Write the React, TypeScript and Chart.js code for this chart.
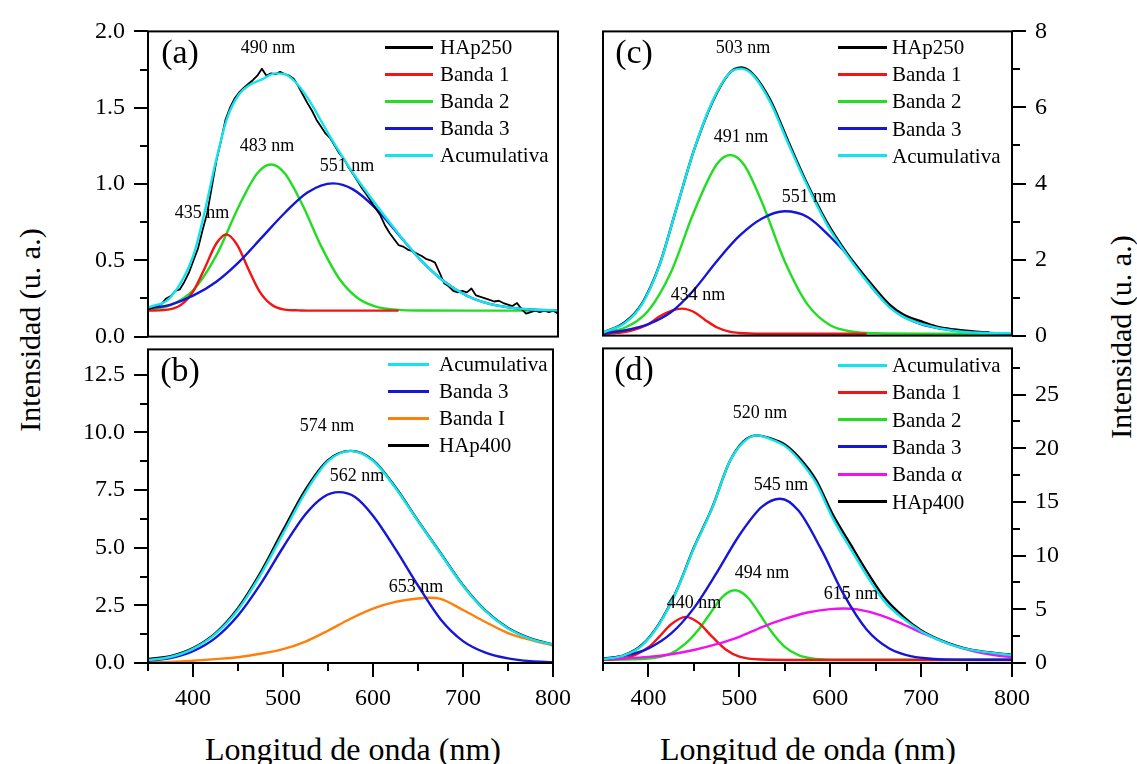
import React, { useEffect, useRef } from "react";
import { Chart, registerables } from "chart.js";
Chart.register(...registerables);

const FONT = '"Liberation Serif", "Times New Roman", Times, serif';

// ---------- axes ----------
const X_TICKS = [400, 500, 600, 700, 800];
const X_MINOR = [350, 450, 550, 650, 750];
const A_YTICKS = [0, 0.5, 1, 1.5, 2];
const A_YMINOR = [0.25, 0.75, 1.25, 1.75];
const B_YTICKS = [0, 2.5, 5, 7.5, 10, 12.5];
const B_YMINOR = [1.25, 3.75, 6.25, 8.75, 11.25];
const C_YTICKS = [0, 2, 4, 6, 8];
const C_YMINOR = [1, 3, 5, 7];
const D_YTICKS = [0, 5, 10, 15, 20, 25];
const D_YMINOR = [2.5, 7.5, 12.5, 17.5, 22.5, 27.5];

// ---------- panel (a) ----------
const A_BLACK_X = [350,355,360,365,370,375,380,385,390,395,400,405,410,415,420,425,430,435,440,445,450,455,460,465,470,475,480,485,490,495,500,505,510,515,520,525,530,535,540,545,550,555,560,565,570,575,580,585,590,595,600,605,610,615,620,625,630,635,640,645,650,655,660,665,670,675,680,685,690,695,700,705,710,715,720,725,730,735,740,745,750,755,760,765,770,775,780,785,790,795,800];
const A_BLACK = [0.18,0.19,0.2,0.215,0.25,0.265,0.3,0.31,0.36,0.42,0.5,0.58,0.7,0.81,0.98,1.15,1.28,1.42,1.5,1.56,1.6,1.63,1.655,1.68,1.71,1.755,1.71,1.725,1.72,1.735,1.72,1.71,1.69,1.64,1.585,1.53,1.48,1.42,1.375,1.33,1.3,1.25,1.2,1.165,1.11,1.065,1.02,0.97,0.93,0.885,0.84,0.795,0.73,0.68,0.64,0.6,0.59,0.57,0.56,0.545,0.53,0.51,0.5,0.485,0.42,0.35,0.33,0.3,0.29,0.3,0.29,0.315,0.27,0.26,0.25,0.24,0.23,0.235,0.22,0.21,0.2,0.22,0.18,0.15,0.16,0.17,0.16,0.17,0.16,0.17,0.15];
const A_RED_X = [350,375,390,400,412,425,436,448,460,472,485,500,515,530,560,625];
const A_RED = [0.17,0.18,0.226,0.3,0.445,0.61,0.67,0.6,0.445,0.3,0.212,0.177,0.172,0.17,0.17,0.17];
const A_GREEN_X = [350,375,400,425,450,470,485,500,520,540,560,580,600,625,650,700,800];
const A_GREEN = [0.177,0.206,0.306,0.532,0.858,1.071,1.128,1.071,0.858,0.593,0.379,0.253,0.197,0.175,0.171,0.17,0.17];
const A_BLUE_X = [350,375,400,425,450,475,500,525,553,575,600,625,650,675,700,725,750,775,800];
const A_BLUE = [0.184,0.21,0.27,0.36,0.49,0.65,0.81,0.945,1.004,0.965,0.84,0.669,0.498,0.361,0.268,0.214,0.188,0.176,0.172];
const A_CUM_X = [350,375,400,412,425,437,450,462,475,490,500,512,525,550,575,600,625,650,675,700,725,750,775,800];
const A_CUM = [0.19,0.26,0.536,0.812,1.162,1.434,1.588,1.65,1.686,1.725,1.72,1.667,1.566,1.309,1.072,0.867,0.674,0.498,0.361,0.268,0.214,0.188,0.176,0.172];

// ---------- panel (b) ----------
const B_X = [350,375,400,425,450,475,500,525,550,575,600,625,650,675,700,725,750,775,800];
const B_CUM = [0.13,0.26,0.61,1.26,2.31,3.82,5.61,7.4,8.75,9.2,8.77,7.59,6.15,4.75,3.35,2.25,1.5,1.05,0.79];
const B_BLACK = [0.18,0.3,0.65,1.3,2.38,3.92,5.75,7.52,8.8,9.2,8.8,7.62,6.17,4.77,3.37,2.27,1.52,1.07,0.8];
const B_ORANGE_X = [350,375,400,425,450,475,500,525,550,575,600,625,650,662,675,700,725,750,775,800];
const B_ORANGE = [0.03,0.05,0.1,0.17,0.25,0.4,0.6,0.93,1.4,1.92,2.36,2.65,2.8,2.83,2.78,2.3,1.78,1.3,1.0,0.76];
const B_BLUE_X = [350,375,400,425,450,475,500,525,545,562,580,600,625,650,675,700,725,750,775,800];
const B_BLUE = [0.1,0.21,0.51,1.09,2.06,3.42,5.01,6.45,7.2,7.41,7.2,6.39,4.94,3.36,1.9,0.95,0.45,0.2,0.08,0.04];

// ---------- panel (c) ----------
const C_RED_X = [350,375,390,400,412,425,437,450,462,475,490,500,525,560,600,640];
const C_RED = [0.04,0.1,0.2,0.3,0.5,0.65,0.71,0.62,0.42,0.22,0.1,0.07,0.05,0.05,0.05,0.05];
const C_GREEN_X = [350,375,400,425,450,475,490,505,525,550,575,600,625,650,700,800];
const C_GREEN = [0.08,0.22,0.66,1.68,3.25,4.5,4.75,4.5,3.5,1.95,0.82,0.27,0.1,0.06,0.05,0.05];
const C_BLUE_X = [350,375,400,425,450,475,500,525,550,575,600,625,650,675,700,725,750,775,800];
const C_BLUE = [0.06,0.14,0.3,0.62,1.2,1.95,2.62,3.08,3.27,3.12,2.6,1.95,1.15,0.58,0.3,0.17,0.1,0.07,0.05];
const C_CUM_X = [350,374,393,412,431,450,470,489,502,515,534,554,573,596,619,642,665,680,703,737,770,800];
const C_CUM = [0.08,0.33,0.83,1.84,3.36,4.87,6.14,6.9,7.02,6.85,6.14,5.04,4.03,2.94,2.1,1.38,0.75,0.5,0.29,0.12,0.07,0.06];
const C_BLACK_X = [350,374,393,412,431,450,470,489,502,515,534,554,573,596,619,642,665,680,703,720,737,760,775];
const C_BLACK = [0.08,0.35,0.85,1.85,3.36,4.87,6.12,6.9,7.05,6.88,6.2,5.1,4.08,3.0,2.15,1.45,0.82,0.56,0.35,0.22,0.16,0.1,0.08];

// ---------- panel (d) ----------
const D_RED_X = [350,375,400,412,425,441,455,470,485,500,525,560,650,800];
const D_RED = [0.3,0.46,1.46,2.45,3.61,4.3,3.76,2.45,1.26,0.6,0.32,0.28,0.28,0.28];
const D_GREEN_X = [350,400,425,440,455,470,482,495,508,520,535,550,565,580,600,650,800];
const D_GREEN = [0.3,0.42,0.9,1.75,3.1,4.87,6.2,6.77,6.2,4.87,2.96,1.5,0.73,0.42,0.31,0.3,0.3];
const D_BLUE_X = [350,375,400,425,450,475,500,525,545,565,590,615,640,665,690,715,740,770,800];
const D_BLUE = [0.42,0.69,1.36,2.75,5.11,8.39,11.9,14.56,15.3,14.2,10.6,6.36,3.12,1.35,0.61,0.37,0.31,0.3,0.3];
const D_MAG_X = [350,375,400,425,450,475,500,525,550,575,600,615,630,655,680,705,730,755,780,800];
const D_MAG = [0.35,0.43,0.57,0.82,1.21,1.75,2.44,3.35,4.1,4.7,5.02,5.08,4.99,4.46,3.61,2.66,1.81,1.16,0.73,0.53];
const D_CUM_X = [350,374,393,412,431,450,470,489,504,519,535,550,565,584,603,622,642,661,680,699,718,737,756,800];
const D_CUM = [0.34,0.74,1.65,3.65,6.71,10.7,14.4,18.69,20.53,21.2,20.83,20.22,19.0,16.82,13.45,10.7,7.9,5.6,4.15,3.0,2.2,1.6,1.2,0.74];
const D_BLACK = [0.34,0.75,1.7,3.7,6.75,10.75,14.45,18.7,20.6,21.2,20.9,20.35,19.2,17.1,13.8,11.1,8.3,5.95,4.35,3.1,2.25,1.65,1.22,0.76];

// ---------- text ----------
const A_LEGEND = ["HAp250", "Banda 1", "Banda 2", "Banda 3", "Acumulativa"];
const B_LEGEND = ["Acumulativa", "Banda 3", "Banda I", "HAp400"];
const C_LEGEND = ["HAp250", "Banda 1", "Banda 2", "Banda 3", "Acumulativa"];
const D_LEGEND = ["Acumulativa", "Banda 1", "Banda 2", "Banda 3", "Banda \u03b1", "HAp400"];
const A_PEAKS = ["490 nm", "483 nm", "551 nm", "435 nm"];
const B_PEAKS = ["574 nm", "562 nm", "653 nm"];
const C_PEAKS = ["503 nm", "491 nm", "551 nm", "434 nm"];
const D_PEAKS = ["520 nm", "545 nm", "494 nm", "440 nm", "615 nm"];
const PANEL_LABELS = ["(a)", "(b)", "(c)", "(d)"];
const X_TITLE = "Longitud de onda (nm)";
const Y_TITLE = "Intensidad (u. a.)";

// ---------- styles ----------
const COL = {
  black: "#000000",
  red: "#f41414",
  green: "#22dd22",
  blue: "#1616d8",
  cyan: "#12e4ee",
  orange: "#ff7f0a",
  magenta: "#f012f0",
};

type S = { xs: number[]; ys: number[]; color: string; jagged?: boolean; width?: number };

const framePlugin = {
  id: "frame",
  afterDraw(chart: any) {
    const { ctx, chartArea: a } = chart;
    ctx.save();
    ctx.strokeStyle = "#000";
    ctx.lineWidth = 2;
    ctx.strokeRect(a.left, a.top, a.right - a.left, a.bottom - a.top);
    ctx.restore();
  },
};

function minorPlugin(xMinor: number[], yMinor: number[], side: string) {
  return {
    id: "minorTicks",
    afterDraw(chart: any) {
      const { ctx, chartArea: a, scales } = chart;
      ctx.save();
      ctx.strokeStyle = "#000";
      ctx.lineWidth = 2;
      for (const v of yMinor) {
        const p = Math.round(scales.y.getPixelForValue(v));
        ctx.beginPath();
        if (side === "right") {
          ctx.moveTo(a.right, p);
          ctx.lineTo(a.right + 8, p);
        } else {
          ctx.moveTo(a.left, p);
          ctx.lineTo(a.left - 8, p);
        }
        ctx.stroke();
      }
      for (const v of xMinor) {
        const p = Math.round(scales.x.getPixelForValue(v));
        ctx.beginPath();
        ctx.moveTo(p, a.bottom);
        ctx.lineTo(p, a.bottom + 8);
        ctx.stroke();
      }
      ctx.restore();
    },
  };
}

type Panel = {
  box: { l: number; t: number; w: number; h: number };
  padding: { top: number; right: number; bottom: number; left: number };
  series: S[];
  yMax: number;
  yTicks: number[];
  yMinor: number[];
  yDigits: number;
  side: string;
  showX: boolean;
  yWidth: number;
};

const PANELS: Panel[] = [
  {
    box: { l: 73, t: 8, w: 501, h: 352 },
    padding: { top: 18, right: 16, bottom: 16, left: 0 },
    series: [
      { xs: A_CUM_X, ys: A_CUM, color: COL.cyan },
      { xs: A_BLACK_X, ys: A_BLACK, color: COL.black, jagged: true, width: 1.8 },
      { xs: A_BLUE_X, ys: A_BLUE, color: COL.blue },
      { xs: A_RED_X, ys: A_RED, color: COL.red },
      { xs: A_GREEN_X, ys: A_GREEN, color: COL.green },
    ],
    yMax: 2, yTicks: A_YTICKS, yMinor: A_YMINOR, yDigits: 1, side: "left", showX: false, yWidth: 75,
  },
  {
    box: { l: 73, t: 326, w: 505, h: 387 },
    padding: { top: 18, right: 20, bottom: 0, left: 0 },
    series: [
      { xs: B_X, ys: B_CUM, color: COL.cyan },
      { xs: B_X, ys: B_BLACK, color: COL.black },
      { xs: B_BLUE_X, ys: B_BLUE, color: COL.blue },
      { xs: B_ORANGE_X, ys: B_ORANGE, color: COL.orange },
    ],
    yMax: 13.6, yTicks: B_YTICKS, yMinor: B_YMINOR, yDigits: 1, side: "left", showX: true, yWidth: 75,
  },
  {
    box: { l: 587, t: 8, w: 485, h: 351 },
    padding: { top: 18, right: 0, bottom: 16, left: 16 },
    series: [
      { xs: C_CUM_X, ys: C_CUM, color: COL.cyan },
      { xs: C_BLACK_X, ys: C_BLACK, color: COL.black },
      { xs: C_BLUE_X, ys: C_BLUE, color: COL.blue },
      { xs: C_RED_X, ys: C_RED, color: COL.red },
      { xs: C_GREEN_X, ys: C_GREEN, color: COL.green },
    ],
    yMax: 8, yTicks: C_YTICKS, yMinor: C_YMINOR, yDigits: 0, side: "right", showX: false, yWidth: 60,
  },
  {
    box: { l: 587, t: 325, w: 485, h: 388 },
    padding: { top: 18, right: 0, bottom: 0, left: 16 },
    series: [
      { xs: D_CUM_X, ys: D_CUM, color: COL.cyan },
      { xs: D_CUM_X, ys: D_BLACK, color: COL.black },
      { xs: D_BLUE_X, ys: D_BLUE, color: COL.blue },
      { xs: D_MAG_X, ys: D_MAG, color: COL.magenta },
      { xs: D_RED_X, ys: D_RED, color: COL.red },
      { xs: D_GREEN_X, ys: D_GREEN, color: COL.green },
    ],
    yMax: 29.3, yTicks: D_YTICKS, yMinor: D_YMINOR, yDigits: 0, side: "right", showX: true, yWidth: 60,
  },
];

const LEGEND_COLORS: Record<string, string>[] = [
  { "HAp250": COL.black, "Banda 1": COL.red, "Banda 2": COL.green, "Banda 3": COL.blue, "Acumulativa": COL.cyan },
  { "Acumulativa": COL.cyan, "Banda 3": COL.blue, "Banda I": COL.orange, "HAp400": COL.black },
  { "HAp250": COL.black, "Banda 1": COL.red, "Banda 2": COL.green, "Banda 3": COL.blue, "Acumulativa": COL.cyan },
  { "Acumulativa": COL.cyan, "Banda 1": COL.red, "Banda 2": COL.green, "Banda 3": COL.blue, "Banda \u03b1": COL.magenta, "HAp400": COL.black },
];
const LEGENDS = [A_LEGEND, B_LEGEND, C_LEGEND, D_LEGEND];
// layout of the legends (pixels)
const LEGEND_LAYOUT = [
  { x0: 385, x1: 433, tx: 440, y0: 47, dy: 27 },
  { x0: 388, x1: 429, tx: 439, y0: 364, dy: 27 },
  { x0: 838, x1: 887, tx: 892, y0: 47, dy: 27.2 },
  { x0: 838, x1: 887, tx: 892, y0: 365, dy: 27.3 },
];
const PEAKS = [A_PEAKS, B_PEAKS, C_PEAKS, D_PEAKS];
const PEAK_POS = [
  [[268, 47], [267, 145], [347, 165], [202, 212]],
  [[327, 425], [357, 475], [416, 586]],
  [[743, 47], [741, 136], [809, 196], [698, 294]],
  [[760, 412], [781, 484], [762, 572], [694, 602], [851, 593]],
];
const LABEL_POS = [[180, 52], [180, 370], [634, 52], [634, 369]];

function Txt(props: { x: number; y: number; size: number; text: string; rotate?: boolean }) {
  return (
    <div
      style={{
        position: "absolute",
        left: props.x,
        top: props.y,
        transform: `translate(-50%, -50%)${props.rotate ? " rotate(-90deg)" : ""}`,
        fontFamily: FONT,
        fontSize: props.size,
        lineHeight: 1,
        whiteSpace: "nowrap",
        color: "#000",
      }}
    >
      {props.text}
    </div>
  );
}

export default function App() {
  const refs = useRef<(HTMLCanvasElement | null)[]>([]);

  useEffect(() => {
    const charts: Chart[] = [];
    PANELS.forEach((p, i) => {
      const canvas = refs.current[i];
      if (!canvas) return;
      const tickFont = { family: FONT, size: 24 };
      const grid = {
        display: true,
        drawOnChartArea: false,
        drawTicks: true,
        tickLength: 14,
        tickWidth: 2,
        lineWidth: 2,
        color: "#000",
        tickColor: "#000",
      };
      const cfg: any = {
        type: "line",
        data: {
          datasets: p.series.map((s) => ({
            data: s.xs.map((x, k) => ({ x, y: s.ys[k] })),
            borderColor: s.color,
            backgroundColor: s.color,
            borderWidth: s.width ?? 2.4,
            pointRadius: 0,
            fill: false,
            tension: 0,
            cubicInterpolationMode: s.jagged ? "default" : "monotone",
            borderJoinStyle: "round",
          })),
        },
        options: {
          animation: false,
          responsive: false,
          events: [],
          layout: { padding: p.padding },
          plugins: { legend: { display: false }, tooltip: { enabled: false } },
          scales: {
            x: p.showX
              ? {
                  type: "linear",
                  min: 350,
                  max: 800,
                  position: "bottom",
                  afterBuildTicks: (sc: any) => {
                    sc.ticks = X_TICKS.map((value) => ({ value }));
                  },
                  afterFit: (sc: any) => {
                    sc.height = 50;
                  },
                  ticks: {
                    callback: (v: any) => String(v),
                    font: tickFont,
                    color: "#000",
                    padding: 7,
                    maxRotation: 0,
                    autoSkip: false,
                  },
                  grid,
                  border: { display: false },
                }
              : { type: "linear", min: 350, max: 800, display: false },
            y: {
              type: "linear",
              position: p.side,
              min: 0,
              max: p.yMax,
              afterBuildTicks: (sc: any) => {
                sc.ticks = p.yTicks.map((value) => ({ value }));
              },
              afterFit: (sc: any) => {
                sc.width = p.yWidth;
              },
              ticks: {
                callback: (v: any) => Number(v).toFixed(p.yDigits),
                font: tickFont,
                color: "#000",
                padding: 9,
                autoSkip: false,
              },
              grid,
              border: { display: false },
            },
          },
        },
        plugins: [framePlugin, minorPlugin(p.showX ? X_MINOR : [], p.yMinor, p.side)],
      };
      charts.push(new Chart(canvas, cfg));
    });
    return () => charts.forEach((c) => c.destroy());
  }, []);

  return (
    <div
      style={{
        position: "absolute",
        left: 0,
        top: 0,
        width: 1137,
        height: 764,
        background: "#fff",
        overflow: "hidden",
      }}
    >
      {PANELS.map((p, i) => (
        <canvas
          key={i}
          ref={(el) => {
            refs.current[i] = el;
          }}
          width={p.box.w}
          height={p.box.h}
          style={{ position: "absolute", left: p.box.l, top: p.box.t, width: p.box.w, height: p.box.h }}
        />
      ))}
      {LEGENDS.map((names, i) =>
        names.map((name, k) => {
          const L = LEGEND_LAYOUT[i];
          const y = L.y0 + k * L.dy;
          return (
            <React.Fragment key={`lg${i}-${k}`}>
              <div
                style={{
                  position: "absolute",
                  left: L.x0,
                  top: y - 1.5,
                  width: L.x1 - L.x0,
                  height: 3,
                  background: LEGEND_COLORS[i][name],
                }}
              />
              <div
                style={{
                  position: "absolute",
                  left: L.tx,
                  top: y,
                  transform: "translateY(-50%)",
                  fontFamily: FONT,
                  fontSize: 21,
                  lineHeight: 1,
                  whiteSpace: "nowrap",
                  color: "#000",
                }}
              >
                {name}
              </div>
            </React.Fragment>
          );
        })
      )}
      {PEAKS.map((arr, i) =>
        arr.map((t, k) => <Txt key={`pk${i}-${k}`} x={PEAK_POS[i][k][0]} y={PEAK_POS[i][k][1]} size={18} text={t} />)
      )}
      {PANEL_LABELS.map((t, i) => (
        <Txt key={`pl${i}`} x={LABEL_POS[i][0]} y={LABEL_POS[i][1]} size={34} text={t} />
      ))}
      <Txt x={353} y={749} size={32} text={X_TITLE} />
      <Txt x={808} y={749} size={32} text={X_TITLE} />
      <Txt x={30} y={330} size={30} text={Y_TITLE} rotate />
      <Txt x={1121} y={337} size={30} text={Y_TITLE} rotate />
    </div>
  );
}
